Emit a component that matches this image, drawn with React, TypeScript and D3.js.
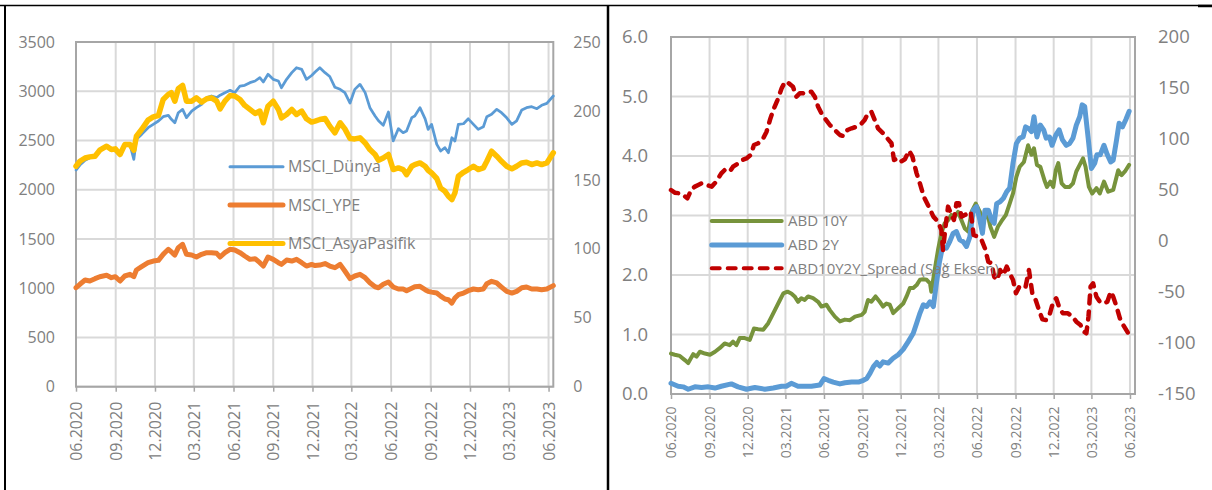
import React, { useRef, useEffect } from "react";
import * as d3 from "d3";

// MSCI indices, left panel (common observation dates)
const msciDates = [
  "2020-06-01", "2020-06-10", "2020-06-22", "2020-07-03", "2020-07-15", "2020-07-26", "2020-08-11", "2020-08-22",
  "2020-08-31", "2020-09-11", "2020-09-22", "2020-10-04", "2020-10-13", "2020-10-19", "2020-10-31", "2020-11-15",
  "2020-11-27", "2020-12-09", "2020-12-20", "2021-01-01", "2021-01-08", "2021-01-16", "2021-01-24", "2021-02-03",
  "2021-02-12", "2021-02-24", "2021-03-07", "2021-03-19", "2021-03-31", "2021-04-11", "2021-04-23", "2021-05-01",
  "2021-05-12", "2021-05-24", "2021-06-04", "2021-06-16", "2021-06-27", "2021-07-09", "2021-07-21", "2021-08-01",
  "2021-08-09", "2021-08-20", "2021-09-01", "2021-09-13", "2021-09-20", "2021-10-02", "2021-10-14", "2021-10-25",
  "2021-11-06", "2021-11-17", "2021-11-29",
  "2021-12-07", "2021-12-18", "2021-12-30", "2022-01-10", "2022-01-22", "2022-02-03", "2022-02-14", "2022-02-26",
  "2022-03-09", "2022-03-21", "2022-04-02", "2022-04-13", "2022-04-25", "2022-05-03", "2022-05-14", "2022-05-26",
  "2022-06-06", "2022-06-18", "2022-06-29", "2022-07-07", "2022-07-19", "2022-07-26", "2022-08-07", "2022-08-19",
  "2022-08-26", "2022-09-03", "2022-09-15", "2022-09-24", "2022-10-04", "2022-10-12", "2022-10-20", "2022-10-27",
  "2022-11-04", "2022-11-16", "2022-11-27", "2022-12-09", "2022-12-20", "2023-01-01", "2023-01-09", "2023-01-20",
  "2023-02-01", "2023-02-12", "2023-02-24", "2023-03-08", "2023-03-19", "2023-03-31", "2023-04-11", "2023-04-23",
  "2023-05-05", "2023-05-16", "2023-05-28", "2023-06-12",
];

const msciDunya = [
  2200, 2250, 2300, 2325, 2342, 2403, 2444, 2410, 2393, 2350, 2444, 2461, 2308, 2512, 2562, 2630, 2664, 2698, 2742,
  2755, 2715, 2680, 2782, 2816, 2732, 2799, 2833, 2867, 2935, 2952, 2935, 2960, 2985, 3010, 2986, 3053, 3060, 3087,
  3104, 3138, 3094, 3172, 3121, 3104, 3036, 3121, 3189, 3239, 3222, 3121, 3160,
  3195, 3239, 3189, 3150, 3040, 3020, 2986, 2880, 3019, 3070, 2986, 2833, 2749, 2700, 2654, 2790, 2495, 2620, 2579,
  2596, 2732, 2749, 2833, 2720, 2613, 2664, 2461, 2393, 2427, 2376, 2528, 2495, 2664, 2670, 2720, 2664, 2613, 2640,
  2742, 2766, 2816, 2782, 2730, 2664, 2700, 2810, 2833, 2843, 2823, 2857, 2877, 2952,
];

const msciYPE = [
  1005, 1040, 1083, 1073, 1097, 1117, 1131, 1107, 1117, 1073, 1124, 1141, 1117, 1185, 1219, 1259, 1276, 1283, 1344,
  1395, 1368, 1337, 1412, 1446, 1344, 1337, 1317, 1344, 1361, 1361, 1354, 1317, 1361, 1395, 1388, 1361, 1327, 1293,
  1300, 1259, 1225, 1317, 1293, 1259, 1242, 1286, 1276, 1293, 1259, 1225, 1242,
  1230, 1235, 1250, 1225, 1208, 1242, 1175, 1097, 1124, 1141, 1107, 1056, 1015, 1005, 1040, 1063, 1012, 992, 992,
  975, 1000, 1015, 1019, 985, 968, 960, 951, 920, 890, 883, 849, 900, 934, 951, 975, 992, 985, 992, 1046, 1070, 1053,
  1012, 968, 951, 968, 1005, 1012, 992, 992, 985, 992, 1026,
];

const msciAsyaPasifik = [
  159.9, 163.5, 165.9, 166.7, 167.2, 171.5, 174.4, 172.0, 172.5, 168.4, 175.6, 175.6, 171.5, 181.7, 186.5, 193.3,
  195.7, 196.7, 208.3, 212.0, 213.2, 207.1, 216.1, 218.5, 207.1, 207.1, 209.5, 206.4, 208.8, 209.5, 207.1, 201.5,
  207.1, 211.2, 210.8, 208.3, 204.0, 201.1, 198.2, 199.9, 191.4, 203.5, 207.1, 201.1, 195.0, 197.4, 201.1, 197.4,
  199.9, 194.3, 191.9,
  192.6, 193.8, 194.5, 189.0, 184.1, 191.4, 187.0, 180.0, 179.7, 180.5, 176.8, 172.0, 168.4, 164.2, 165.9, 168.4,
  157.5, 158.7, 157.5, 153.8, 159.9, 161.1, 162.3, 159.9, 157.0, 155.0, 151.0, 144.0, 141.7, 138.1, 135.7, 140.5,
  152.6, 155.5, 157.5, 159.9, 157.5, 158.7, 163.5, 170.8, 167.2, 163.5, 159.9, 158.0, 159.9, 162.3, 162.8, 161.1,
  162.3, 161.1, 162.3, 169.6,
];

// US treasury yields, right panel
const abd10Y: [string, number][] = [
  ["2020-06-01", 0.68], ["2020-06-10", 0.66], ["2020-06-22", 0.64], ["2020-07-04", 0.57], ["2020-07-12", 0.52],
  ["2020-07-24", 0.67], ["2020-08-01", 0.63], ["2020-08-09", 0.71], ["2020-08-21", 0.68], ["2020-09-02", 0.66],
  ["2020-09-14", 0.71], ["2020-09-25", 0.77], ["2020-10-07", 0.85], ["2020-10-19", 0.82], ["2020-10-27", 0.88],
  ["2020-11-04", 0.82], ["2020-11-12", 0.94], ["2020-11-24", 0.94], ["2020-12-06", 0.91], ["2020-12-16", 1.10],
  ["2020-12-26", 1.09], ["2021-01-07", 1.08], ["2021-01-19", 1.19], ["2021-01-27", 1.30], ["2021-02-08", 1.47],
  ["2021-02-16", 1.58], ["2021-02-24", 1.69], ["2021-03-06", 1.72], ["2021-03-15", 1.69], ["2021-03-23", 1.64],
  ["2021-03-31", 1.55], ["2021-04-08", 1.61], ["2021-04-16", 1.58], ["2021-04-24", 1.64], ["2021-05-06", 1.61],
  ["2021-05-18", 1.55], ["2021-05-26", 1.47], ["2021-06-07", 1.50], ["2021-06-15", 1.41], ["2021-06-27", 1.30],
  ["2021-07-09", 1.22], ["2021-07-21", 1.25], ["2021-08-02", 1.24], ["2021-08-14", 1.30], ["2021-08-30", 1.33],
  ["2021-09-06", 1.38], ["2021-09-14", 1.58], ["2021-09-22", 1.55], ["2021-10-02", 1.64], ["2021-10-12", 1.55],
  ["2021-10-20", 1.47], ["2021-10-28", 1.52], ["2021-11-05", 1.50], ["2021-11-13", 1.36], ["2021-11-25", 1.44],
  ["2021-12-07", 1.52], ["2021-12-15", 1.64], ["2021-12-23", 1.78], ["2021-12-31", 1.78], ["2022-01-08", 1.83],
  ["2022-01-16", 1.92], ["2022-01-24", 1.93], ["2022-02-01", 1.92], ["2022-02-09", 1.86], ["2022-02-12", 1.72],
  ["2022-02-20", 2.08], ["2022-02-28", 2.42], ["2022-03-08", 2.70], ["2022-03-16", 2.87], ["2022-03-24", 2.92],
  ["2022-04-01", 3.01], ["2022-04-09", 2.98], ["2022-04-17", 3.06], ["2022-04-25", 2.92], ["2022-05-03", 2.78],
  ["2022-05-11", 2.73], ["2022-05-19", 3.06], ["2022-05-29", 3.20], ["2022-06-08", 3.06], ["2022-06-16", 2.90],
  ["2022-06-25", 3.06], ["2022-07-03", 2.81], ["2022-07-12", 2.64], ["2022-07-21", 2.81], ["2022-07-29", 2.90],
  ["2022-08-09", 3.01], ["2022-08-18", 3.20], ["2022-08-26", 3.37], ["2022-09-03", 3.65], ["2022-09-11", 3.82],
  ["2022-09-21", 3.90], ["2022-10-01", 4.18], ["2022-10-09", 4.02], ["2022-10-15", 4.13], ["2022-10-22", 3.85],
  ["2022-10-30", 3.82], ["2022-11-10", 3.57], ["2022-11-15", 3.48], ["2022-11-23", 3.57], ["2022-11-30", 3.48],
  ["2022-12-06", 3.76], ["2022-12-12", 3.88], ["2022-12-20", 3.54], ["2022-12-28", 3.48], ["2023-01-08", 3.48],
  ["2023-01-16", 3.54], ["2023-01-24", 3.74], ["2023-02-01", 3.85], ["2023-02-09", 3.96], ["2023-02-15", 3.82],
  ["2023-02-23", 3.48], ["2023-03-03", 3.37], ["2023-03-13", 3.46], ["2023-03-21", 3.37], ["2023-03-31", 3.57],
  ["2023-04-10", 3.40], ["2023-04-22", 3.43], ["2023-05-04", 3.76], ["2023-05-12", 3.68], ["2023-05-20", 3.74],
  ["2023-05-30", 3.85],
];

const abd2Y: [string, number][] = [
  ["2020-06-01", 0.18], ["2020-06-18", 0.13], ["2020-06-30", 0.12], ["2020-07-12", 0.08], ["2020-07-28", 0.12],
  ["2020-08-13", 0.11], ["2020-08-29", 0.12], ["2020-09-14", 0.10], ["2020-09-29", 0.13], ["2020-10-23", 0.17],
  ["2020-11-08", 0.12], ["2020-11-28", 0.08], ["2020-12-18", 0.11], ["2021-01-11", 0.08], ["2021-01-31", 0.10],
  ["2021-02-20", 0.13], ["2021-03-03", 0.13], ["2021-03-15", 0.18], ["2021-03-31", 0.13], ["2021-04-16", 0.13],
  ["2021-05-02", 0.13], ["2021-05-22", 0.15], ["2021-06-01", 0.26], ["2021-06-11", 0.23], ["2021-06-23", 0.20],
  ["2021-07-09", 0.17], ["2021-07-21", 0.19], ["2021-08-06", 0.20], ["2021-08-22", 0.20], ["2021-09-03", 0.23],
  ["2021-09-11", 0.26], ["2021-09-19", 0.35], ["2021-09-27", 0.46], ["2021-10-05", 0.53], ["2021-10-12", 0.47],
  ["2021-10-20", 0.54], ["2021-11-01", 0.52], ["2021-11-13", 0.60], ["2021-11-25", 0.66], ["2021-12-07", 0.75],
  ["2021-12-19", 0.88], ["2021-12-31", 1.02], ["2022-01-08", 1.19], ["2022-01-16", 1.36], ["2022-01-24", 1.50],
  ["2022-02-01", 1.47], ["2022-02-09", 1.55], ["2022-02-17", 1.47], ["2022-02-23", 1.80], ["2022-03-03", 2.20],
  ["2022-03-11", 2.48], ["2022-03-20", 2.45], ["2022-03-28", 2.56], ["2022-04-05", 2.70], ["2022-04-13", 2.73],
  ["2022-04-21", 2.59], ["2022-04-29", 2.56], ["2022-05-07", 2.48], ["2022-05-15", 2.64], ["2022-05-23", 3.09],
  ["2022-05-31", 3.15], ["2022-06-08", 2.92], ["2022-06-14", 2.70], ["2022-06-20", 3.09], ["2022-06-28", 3.09],
  ["2022-07-06", 2.92], ["2022-07-12", 2.87], ["2022-07-18", 3.20], ["2022-07-26", 3.23], ["2022-08-03", 3.29],
  ["2022-08-11", 3.40], ["2022-08-18", 3.46], ["2022-08-26", 3.88], ["2022-09-03", 4.21], ["2022-09-11", 4.30],
  ["2022-09-19", 4.32], ["2022-09-25", 4.49], ["2022-10-03", 4.46], ["2022-10-09", 4.41], ["2022-10-15", 4.66],
  ["2022-10-22", 4.32], ["2022-10-30", 4.52], ["2022-11-07", 4.44], ["2022-11-13", 4.30], ["2022-11-21", 4.32],
  ["2022-11-27", 4.18], ["2022-12-06", 4.35], ["2022-12-14", 4.44], ["2022-12-22", 4.27], ["2022-12-31", 4.18],
  ["2023-01-08", 4.21], ["2023-01-16", 4.30], ["2023-01-24", 4.52], ["2023-02-01", 4.66], ["2023-02-07", 4.86],
  ["2023-02-13", 4.83], ["2023-02-21", 4.32], ["2023-03-01", 3.79], ["2023-03-09", 3.88], ["2023-03-14", 4.02],
  ["2023-03-22", 4.02], ["2023-03-31", 4.18], ["2023-04-08", 4.02], ["2023-04-16", 3.90], ["2023-04-22", 3.93],
  ["2023-04-30", 4.27], ["2023-05-06", 4.55], ["2023-05-14", 4.49], ["2023-05-22", 4.61], ["2023-05-30", 4.75],
];

// 10Y-2Y spread in basis points (right axis)
const abdSpread: [string, number][] = [
  ["2020-06-01", 50.0], ["2020-06-10", 47.4], ["2020-06-22", 46.7], ["2020-06-30", 45.1], ["2020-07-10", 41.8],
  ["2020-07-20", 50.7], ["2020-07-28", 53.3], ["2020-08-05", 54.9], ["2020-08-13", 56.5], ["2020-08-25", 54.9],
  ["2020-09-06", 53.3], ["2020-09-17", 58.2], ["2020-09-29", 66.3], ["2020-10-07", 69.6], ["2020-10-19", 68.0],
  ["2020-10-27", 72.9], ["2020-11-08", 76.1], ["2020-11-18", 79.4], ["2020-11-28", 81.0], ["2020-12-08", 84.3],
  ["2020-12-16", 94.1], ["2020-12-26", 95.8], ["2021-01-07", 100.7], ["2021-01-15", 107.2], ["2021-01-23", 118.6],
  ["2021-01-31", 128.4], ["2021-02-10", 138.2], ["2021-02-20", 149.7], ["2021-02-28", 156.2], ["2021-03-09", 154.6],
  ["2021-03-19", 151.3], ["2021-03-27", 141.5], ["2021-04-04", 144.8], ["2021-04-12", 144.8], ["2021-04-22", 146.4],
  ["2021-05-02", 146.4], ["2021-05-10", 141.5], ["2021-05-18", 131.7], ["2021-05-26", 125.2], ["2021-06-03", 120.3],
  ["2021-06-15", 113.7], ["2021-06-27", 108.8], ["2021-07-09", 103.9], ["2021-07-17", 102.9], ["2021-07-27", 108.8],
  ["2021-08-06", 110.5], ["2021-08-18", 112.1], ["2021-08-30", 115.4], ["2021-09-06", 118.6], ["2021-09-14", 125.2],
  ["2021-09-22", 126.8], ["2021-09-30", 118.6], ["2021-10-08", 110.5], ["2021-10-20", 105.6], ["2021-10-30", 100.7],
  ["2021-11-09", 95.8], ["2021-11-15", 79.4], ["2021-11-23", 81.0], ["2021-12-01", 77.8], ["2021-12-11", 80.1],
  ["2021-12-21", 88.6], ["2021-12-29", 82.7], ["2022-01-08", 66.3], ["2022-01-17", 54.9], ["2022-01-25", 43.5],
  ["2022-02-04", 35.3], ["2022-02-17", 23.9], ["2022-02-28", 19.0], ["2022-03-08", 10.8], ["2022-03-12", -8.8],
  ["2022-03-18", 14.1], ["2022-03-24", 33.7], ["2022-04-01", 25.5], ["2022-04-07", 20.6], ["2022-04-13", 37.1],
  ["2022-04-19", 37.1], ["2022-04-25", 23.9], ["2022-05-03", 25.5], ["2022-05-11", 27.1], ["2022-05-17", 28.8],
  ["2022-05-24", 5.9], ["2022-06-04", 4.2], ["2022-06-12", 1.0], ["2022-06-20", -7.2], ["2022-06-28", -20.3],
  ["2022-07-06", -21.9], ["2022-07-12", -35.0], ["2022-07-19", -38.2], ["2022-07-26", -28.4], ["2022-08-03", -33.3],
  ["2022-08-11", -25.2], ["2022-08-18", -31.7], ["2022-08-26", -38.2], ["2022-09-02", -51.3], ["2022-09-10", -44.8],
  ["2022-09-18", -46.4], ["2022-09-25", -44.8], ["2022-10-03", -28.4], ["2022-10-11", -51.3], ["2022-10-19", -57.8],
  ["2022-10-27", -67.6], ["2022-11-04", -76.8], ["2022-11-13", -77.5], ["2022-11-21", -72.5], ["2022-11-30", -59.5],
  ["2022-12-07", -56.2], ["2022-12-15", -66.0], ["2022-12-23", -70.9], ["2023-01-04", -70.9], ["2023-01-15", -74.2],
  ["2023-01-24", -79.1], ["2023-02-03", -82.4], ["2023-02-11", -88.9], ["2023-02-17", -90.5], ["2023-02-22", -74.2],
  ["2023-02-27", -44.8], ["2023-03-05", -41.5], ["2023-03-13", -54.6], ["2023-03-21", -59.5], ["2023-03-31", -61.1],
  ["2023-04-08", -59.5], ["2023-04-16", -49.7], ["2023-04-22", -54.6], ["2023-04-30", -64.4], ["2023-05-08", -75.8],
  ["2023-05-16", -82.4], ["2023-05-30", -92.0],
];

const xTickLabels = [
  "06.2020", "09.2020", "12.2020", "03.2021", "06.2021", "09.2021", "12.2021",
  "03.2022", "06.2022", "09.2022", "12.2022", "03.2023", "06.2023",
];
const msciLeftTicks = [0, 500, 1000, 1500, 2000, 2500, 3000, 3500];
const msciRightTicks = [0, 50, 100, 150, 200, 250];
const yieldTicks = [0, 1, 2, 3, 4, 5, 6];
const spreadTicks = [-150, -100, -50, 0, 50, 100, 150, 200];

const parseDay = d3.timeParse("%Y-%m-%d");
const parseMonth = d3.timeParse("%m.%Y");

const TEXT = "#808080";
const GRID = "#d9d9d9";
const AXIS = "#a6a6a6";

type Pt = { date: Date; value: number };
type SeriesDef = {
  name: string;
  points: Pt[];
  color: string;
  width: number;
  legendWidth: number;
  dash?: string;
  axis: "left" | "right";
};

const fromColumns = (dates: string[], values: number[]): Pt[] =>
  dates.map((d, i) => ({ date: parseDay(d) as Date, value: values[i] }));
const fromPairs = (pairs: [string, number][]): Pt[] =>
  pairs.map(([d, v]) => ({ date: parseDay(d) as Date, value: v }));

function drawPanel(svg: any, cfg: any) {
  const { left, right, top, bottom } = cfg.plot;
  const g = svg.append("g");

  const x = d3.scaleTime().domain([parseDay("2020-06-01") as Date, parseDay(cfg.end) as Date]).range([left, right]);
  const yL = d3.scaleLinear().domain(d3.extent(cfg.leftTicks) as [number, number]).range([bottom, top]);
  const yR = d3.scaleLinear().domain(d3.extent(cfg.rightTicks) as [number, number]).range([bottom, top]);
  const tickDates = xTickLabels.map((t) => parseMonth(t) as Date);

  // grid
  g.append("g")
    .selectAll("line")
    .data(cfg.leftTicks)
    .join("line")
    .attr("x1", left)
    .attr("x2", right)
    .attr("y1", (d: number) => yL(d))
    .attr("y2", (d: number) => yL(d))
    .attr("stroke", GRID)
    .attr("stroke-width", 2);
  g.append("g")
    .selectAll("line")
    .data(tickDates)
    .join("line")
    .attr("x1", (d: Date) => x(d))
    .attr("x2", (d: Date) => x(d))
    .attr("y1", top)
    .attr("y2", bottom)
    .attr("stroke", GRID)
    .attr("stroke-width", 2);

  g.append("rect")
    .attr("x", left)
    .attr("y", top)
    .attr("width", right - left)
    .attr("height", bottom - top)
    .attr("fill", "none")
    .attr("stroke", AXIS)
    .attr("stroke-width", 2);

  // axes
  const yAxisL = g
    .append("g")
    .attr("transform", `translate(${left},0)`)
    .call(d3.axisLeft(yL).tickValues(cfg.leftTicks).tickSize(0).tickPadding(cfg.leftPad).tickFormat(cfg.leftFmt));
  const yAxisR = g
    .append("g")
    .attr("transform", `translate(${right},0)`)
    .call(d3.axisRight(yR).tickValues(cfg.rightTicks).tickSize(0).tickPadding(cfg.rightPad).tickFormat(cfg.rightFmt));
  const xAxis = g
    .append("g")
    .attr("transform", `translate(0,${bottom})`)
    .call(d3.axisBottom(x).tickValues(tickDates).tickSize(5).tickFormat(d3.timeFormat("%m.%Y") as any));

  [yAxisL, yAxisR, xAxis].forEach((a) => {
    a.select(".domain").remove();
    a.selectAll("text").attr("fill", TEXT).attr("font-family", null);
    a.selectAll("line").attr("stroke", AXIS).attr("stroke-width", 1.5);
    a.attr("font-family", null);
  });
  yAxisL.attr("font-size", cfg.yFont);
  yAxisR.attr("font-size", cfg.yFont);
  xAxis.attr("font-size", cfg.xFont);
  xAxis
    .selectAll("text")
    .attr("transform", "rotate(-90)")
    .attr("x", -cfg.xGap)
    .attr("y", 0)
    .attr("dy", "0.35em")
    .attr("text-anchor", "end");

  // series
  cfg.series.forEach((s: SeriesDef) => {
    const ys = s.axis === "left" ? yL : yR;
    const line = d3
      .line<Pt>()
      .x((d) => x(d.date))
      .y((d) => ys(d.value));
    g.append("path")
      .datum(s.points)
      .attr("fill", "none")
      .attr("stroke", s.color)
      .attr("stroke-width", s.width)
      .attr("stroke-linejoin", "round")
      .attr("stroke-linecap", "round")
      .attr("stroke-dasharray", s.dash || null)
      .attr("d", line);
  });

  // legend
  const lg = cfg.legend;
  cfg.series.forEach((s: SeriesDef, i: number) => {
    const y = lg.ys[i];
    g.append("line")
      .attr("x1", lg.x1)
      .attr("x2", lg.x2)
      .attr("y1", y)
      .attr("y2", y)
      .attr("stroke", s.color)
      .attr("stroke-width", s.legendWidth)
      .attr("stroke-linecap", "round")
      .attr("stroke-dasharray", s.dash || null);
    g.append("text")
      .attr("x", lg.textX)
      .attr("y", y)
      .attr("dy", "0.35em")
      .attr("fill", TEXT)
      .attr("font-size", lg.font)
      .text(s.name);
  });
}

export default function App() {
  const svgRef = useRef<SVGSVGElement>(null);

  useEffect(() => {
    document.body.style.margin = "0";
    const svg = d3.select(svgRef.current);
    svg.selectAll("*").remove();

    // panel frame
    const frame = svg.append("g").attr("stroke", "#000");
    frame.append("line").attr("x1", 0).attr("x2", 1212).attr("y1", 5.5).attr("y2", 5.5).attr("stroke-width", 1.5);
    frame.append("line").attr("x1", 1198).attr("x2", 1212).attr("y1", 6).attr("y2", 6).attr("stroke-width", 2.5);
    frame.append("line").attr("x1", 5).attr("x2", 5).attr("y1", 5).attr("y2", 490).attr("stroke-width", 2);
    frame.append("line").attr("x1", 608).attr("x2", 608).attr("y1", 5).attr("y2", 490).attr("stroke-width", 2.5);

    drawPanel(svg, {
      plot: { left: 76, right: 553.3, top: 42, bottom: 386.7 },
      end: "2023-06-12",
      leftTicks: msciLeftTicks,
      rightTicks: msciRightTicks,
      leftFmt: (d: number) => String(d),
      rightFmt: (d: number) => String(d),
      leftPad: 21,
      rightPad: 20,
      yFont: 16,
      xFont: 16,
      xGap: 15,
      series: [
        { name: "MSCI_Dünya", points: fromColumns(msciDates, msciDunya), color: "#5b9bd5", width: 2.75, legendWidth: 3, axis: "left" },
        { name: "MSCI_YPE", points: fromColumns(msciDates, msciYPE), color: "#ed7d31", width: 5, legendWidth: 5, axis: "left" },
        { name: "MSCI_AsyaPasifik", points: fromColumns(msciDates, msciAsyaPasifik), color: "#ffc000", width: 5.5, legendWidth: 5, axis: "right" },
      ],
      legend: { x1: 230, x2: 283, textX: 288, ys: [166.7, 205, 243.5], font: 16 },
    });

    drawPanel(svg, {
      plot: { left: 671, right: 1135, top: 37, bottom: 394 },
      end: "2023-06-13",
      leftTicks: yieldTicks,
      rightTicks: spreadTicks,
      leftFmt: d3.format(".1f"),
      rightFmt: (d: number) => String(d),
      leftPad: 23,
      rightPad: 23,
      yFont: 18.5,
      xFont: 14,
      xGap: 12.5,
      series: [
        { name: "ABD 10Y", points: fromPairs(abd10Y), color: "#77933c", width: 4, legendWidth: 4, axis: "left" },
        { name: "ABD 2Y", points: fromPairs(abd2Y), color: "#5b9bd5", width: 5, legendWidth: 5, axis: "left" },
        { name: "ABD10Y2Y_Spread (Sağ Eksen)", points: fromPairs(abdSpread), color: "#c00000", width: 4.5, legendWidth: 4, dash: "8 8", axis: "right" },
      ],
      legend: { x1: 711.7, x2: 781.7, textX: 788, ys: [221, 245, 268.3], font: 15 },
    });
  }, []);

  return (
    <svg
      ref={svgRef}
      width={1212}
      height={490}
      style={{ position: "absolute", left: 0, top: 0, background: "#fff", fontFamily: "'Segoe UI', 'Open Sans', sans-serif" }}
    />
  );
}
